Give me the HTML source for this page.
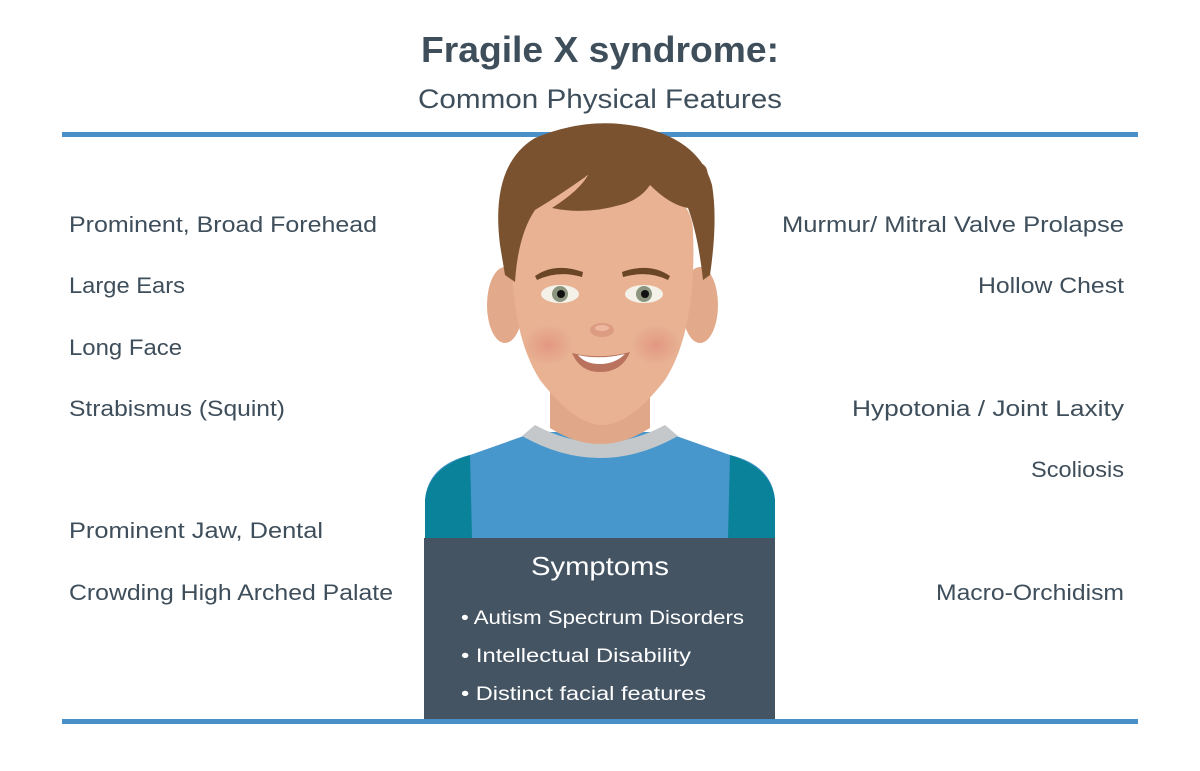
<!DOCTYPE html>
<html><head><meta charset="utf-8"><style>html,body{margin:0;padding:0;background:#fff}svg{display:block}</style></head>
<body>
<svg width="1200" height="771" viewBox="0 0 1200 771" xmlns="http://www.w3.org/2000/svg" font-family="Liberation Sans, sans-serif">
<defs>
<radialGradient id="cheek" cx="0.5" cy="0.5" r="0.5"><stop offset="0" stop-color="#e08c7c" stop-opacity="0.7"/><stop offset="1" stop-color="#e08c7c" stop-opacity="0"/></radialGradient>
</defs>
<text x="600" y="62" text-anchor="middle" font-size="36" font-weight="bold" fill="#3e4e5b" textLength="358" lengthAdjust="spacingAndGlyphs">Fragile X syndrome:</text>
<text x="600" y="108" text-anchor="middle" font-size="27" fill="#3e4e5b" textLength="364" lengthAdjust="spacingAndGlyphs">Common Physical Features</text>
<rect x="62" y="132" width="1076" height="5" fill="#4a90c8"/>

<!-- shirt -->
<path d="M425,538 L425,500 Q428,465 470,455 L535,432 L665,432 L730,455 Q772,465 775,500 L775,538 Z" fill="#4796cc"/>
<path d="M425,538 L425,500 Q428,468 470,455 L472,538 Z" fill="#0a8299"/>
<path d="M775,538 L775,500 Q772,468 730,455 L728,538 Z" fill="#0a8299"/>
<path d="M522,436 Q600,480 678,436 L665,425 Q600,460 535,425 Z" fill="#c4c8cb"/>
<!-- neck -->
<path d="M550,370 L550,428 Q600,460 650,428 L650,370 Z" fill="#e0a888"/>
<!-- ears -->
<ellipse cx="505" cy="305" rx="18" ry="38" fill="#e2a98a"/>
<ellipse cx="700" cy="305" rx="18" ry="38" fill="#e2a98a"/>
<!-- face -->
<path d="M512,230 Q508,330 540,380 Q575,425 602,425 Q630,425 665,380 Q697,330 693,230 Q690,180 602,175 Q515,180 512,230 Z" fill="#e8b293"/>
<ellipse cx="548" cy="345" rx="25" ry="20" fill="url(#cheek)"/>
<ellipse cx="656" cy="345" rx="25" ry="20" fill="url(#cheek)"/>
<!-- hair -->
<path d="M500,245 Q490,165 535,138 Q590,115 645,128 Q700,142 712,185 Q718,220 710,275 L703,280 Q698,235 688,208 Q670,205 650,185 Q640,200 620,205 Q585,215 552,208 Q580,190 588,175 Q560,195 535,210 Q518,235 515,282 L505,275 Z" fill="#7b5230"/>
<path d="M690,165 Q708,158 708,178 Q700,170 690,172 Z" fill="#7b5230"/>
<!-- eyebrows -->
<path d="M535,276 Q555,262 583,272 L582,277 Q558,270 537,280 Z" fill="#6a4526"/>
<path d="M622,272 Q650,262 670,276 L668,280 Q648,270 623,277 Z" fill="#6a4526"/>
<!-- eyes -->
<ellipse cx="560" cy="294" rx="19" ry="9" fill="#f4f1e8"/>
<circle cx="560" cy="294" r="8" fill="#8c957f"/><circle cx="561" cy="294" r="4" fill="#111"/>
<ellipse cx="644" cy="294" rx="19" ry="9" fill="#f4f1e8"/>
<circle cx="644" cy="294" r="8" fill="#8c957f"/><circle cx="645" cy="294" r="4" fill="#111"/>
<!-- nose -->
<ellipse cx="602" cy="330" rx="12" ry="7" fill="#dc9c82"/>
<ellipse cx="602" cy="328" rx="7" ry="3" fill="#eeb8a0"/>
<!-- mouth -->
<path d="M572,353 Q600,360 630,352 Q622,372 600,372 Q580,372 572,353 Z" fill="#b8725e"/>
<path d="M578,355 Q600,360 625,354 Q615,364 600,364 Q585,364 578,355 Z" fill="#fff"/>

<!-- symptoms box -->
<rect x="424" y="538" width="351" height="183" fill="#445463"/>
<text x="600" y="575" text-anchor="middle" font-size="26" fill="#fff" textLength="138" lengthAdjust="spacingAndGlyphs">Symptoms</text>
<g font-size="19" fill="#fff">
<text x="461" y="624" textLength="283" lengthAdjust="spacingAndGlyphs">• Autism Spectrum Disorders</text>
<text x="461" y="662" textLength="230" lengthAdjust="spacingAndGlyphs">• Intellectual Disability</text>
<text x="461" y="700" textLength="245" lengthAdjust="spacingAndGlyphs">• Distinct facial features</text>
</g>
<rect x="62" y="719" width="1076" height="5" fill="#4a90c8"/>

<g font-size="22" fill="#3e4e5b">
<text x="69" y="232" textLength="308" lengthAdjust="spacingAndGlyphs">Prominent, Broad Forehead</text>
<text x="69" y="293" textLength="116" lengthAdjust="spacingAndGlyphs">Large Ears</text>
<text x="69" y="355" textLength="113" lengthAdjust="spacingAndGlyphs">Long Face</text>
<text x="69" y="416" textLength="216" lengthAdjust="spacingAndGlyphs">Strabismus (Squint)</text>
<text x="69" y="538" textLength="254" lengthAdjust="spacingAndGlyphs">Prominent Jaw, Dental</text>
<text x="69" y="600" textLength="324" lengthAdjust="spacingAndGlyphs">Crowding High Arched Palate</text>
</g>
<g font-size="22" fill="#3e4e5b" text-anchor="end">
<text x="1124" y="232" textLength="342" lengthAdjust="spacingAndGlyphs">Murmur/ Mitral Valve Prolapse</text>
<text x="1124" y="293" textLength="146" lengthAdjust="spacingAndGlyphs">Hollow Chest</text>
<text x="1124" y="416" textLength="272" lengthAdjust="spacingAndGlyphs">Hypotonia / Joint Laxity</text>
<text x="1124" y="477" textLength="93" lengthAdjust="spacingAndGlyphs">Scoliosis</text>
<text x="1124" y="600" textLength="188" lengthAdjust="spacingAndGlyphs">Macro-Orchidism</text>
</g>
</svg>
</body></html>
